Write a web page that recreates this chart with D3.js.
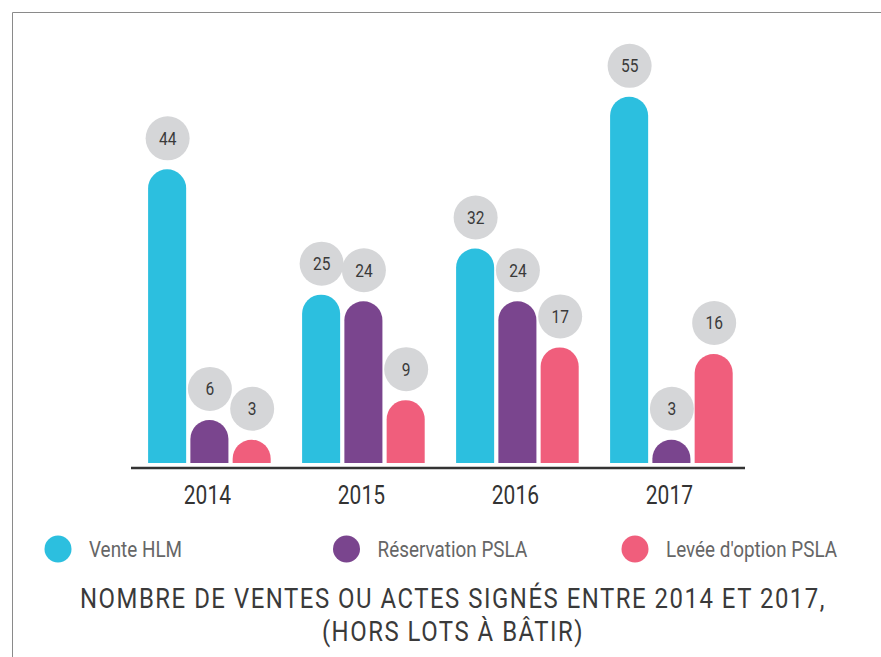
<!DOCTYPE html>
<html>
<head>
<meta charset="utf-8">
<script src="https://cdn.jsdelivr.net/npm/d3@7"></script>
<style>
  html, body { margin: 0; padding: 0; background: #fff; }
  svg { display: block; font-family: Roboto, "Noto Sans", sans-serif; }
</style>
</head>
<body>
<svg id="chart" width="881" height="657"></svg>
<script>
// data
const years = ["2014", "2015", "2016", "2017"];
const seriesNames = ["Vente HLM", "Réservation PSLA", "Levée d'option PSLA"];
const venteHLM = [44, 25, 32, 55];
const reservationPSLA = [6, 24, 24, 3];
const leveeOption = [3, 9, 17, 16];
const seriesColors = ["#2cbfdf", "#7a458e", "#f05e7c"];
const titleLines = ["NOMBRE DE VENTES OU ACTES SIGNÉS ENTRE 2014 ET 2017,", "(HORS LOTS À BÂTIR)"];

const seriesValues = [venteHLM, reservationPSLA, leveeOption];
const rows = years.map((yr, i) => ({
  year: yr,
  values: seriesNames.map((s, j) => ({ key: s, value: seriesValues[j][i], color: seriesColors[j] }))
}));

const svg = d3.select("#chart");

// thin frame around the figure (runs off the right/bottom edges)
svg.append("path")
  .attr("d", "M12.5,657 V12.5 H881")
  .attr("fill", "none")
  .attr("stroke", "#8a8a8a")
  .attr("stroke-width", 1);

// narrow-looking text: Roboto squeezed horizontally
const squeeze = 0.84;
function addText(parent, x, y, str, size, color, anchor) {
  return parent.append("text")
    .attr("transform", `translate(${x},${y}) scale(${squeeze},1)`)
    .attr("text-anchor", anchor || "middle")
    .attr("font-size", size)
    .attr("fill", color)
    .text(str);
}

const x0 = d3.scaleBand().domain(years).range([132.4, 748.4]);
const x1 = d3.scaleBand().domain(seriesNames).range([0, 122.6]).paddingInner(0.1);
// bars start a touch under the zero line of the scale
const y = d3.scaleLinear().domain([0, 55]).range([459.5, 96.8]);
const barBottom = y(0) + 3.5;

function roundTop(x, w, top, bottom) {
  const r = w / 2;
  return `M${x},${bottom}V${top + r}A${r},${r} 0 0 1 ${x + w},${top + r}V${bottom}Z`;
}

const groups = svg.append("g").selectAll("g")
  .data(rows)
  .join("g")
  .attr("transform", d => `translate(${x0(d.year) + x0.bandwidth() / 2 - 61.3},0)`);

groups.selectAll("path")
  .data(d => d.values)
  .join("path")
  .attr("d", d => roundTop(x1(d.key), x1.bandwidth(), y(d.value), barBottom))
  .attr("fill", d => d.color);

// value bubbles
groups.each(function (d) {
  const g = d3.select(this);
  d.values.forEach(v => {
    const cx = x1(v.key) + x1.bandwidth() / 2 + 0.5;
    const cy = y(v.value) - 31;
    g.append("circle").attr("cx", cx).attr("cy", cy).attr("r", 22).attr("fill", "#d5d6d8");
    addText(g, cx, cy + 6.5, v.value, 18.5, "#3a3a3a");
  });
});

// baseline
svg.append("line")
  .attr("x1", 131).attr("x2", 745)
  .attr("y1", 468).attr("y2", 468)
  .attr("stroke", "#333").attr("stroke-width", 2.5);

// year labels
years.forEach(yr => addText(svg, x0(yr) + x0.bandwidth() / 2 - 2, 503.5, yr, 25, "#333"));

// legend
const legendX = d3.scalePoint().domain(seriesNames).range([58, 635]);
seriesNames.forEach((s, i) => {
  svg.append("circle")
    .attr("cx", legendX(s)).attr("cy", 549).attr("r", 13.5)
    .attr("fill", seriesColors[i]);
  addText(svg, legendX(s) + 31, 556.5, s, 22.5, "#666", "start");
});

// title
titleLines.forEach((t, i) => addText(svg, 453, 607.5 + i * 33.5, t, 28.5, "#3a3a3a")
  .attr("letter-spacing", 1.8));
</script>
</body>
</html>
